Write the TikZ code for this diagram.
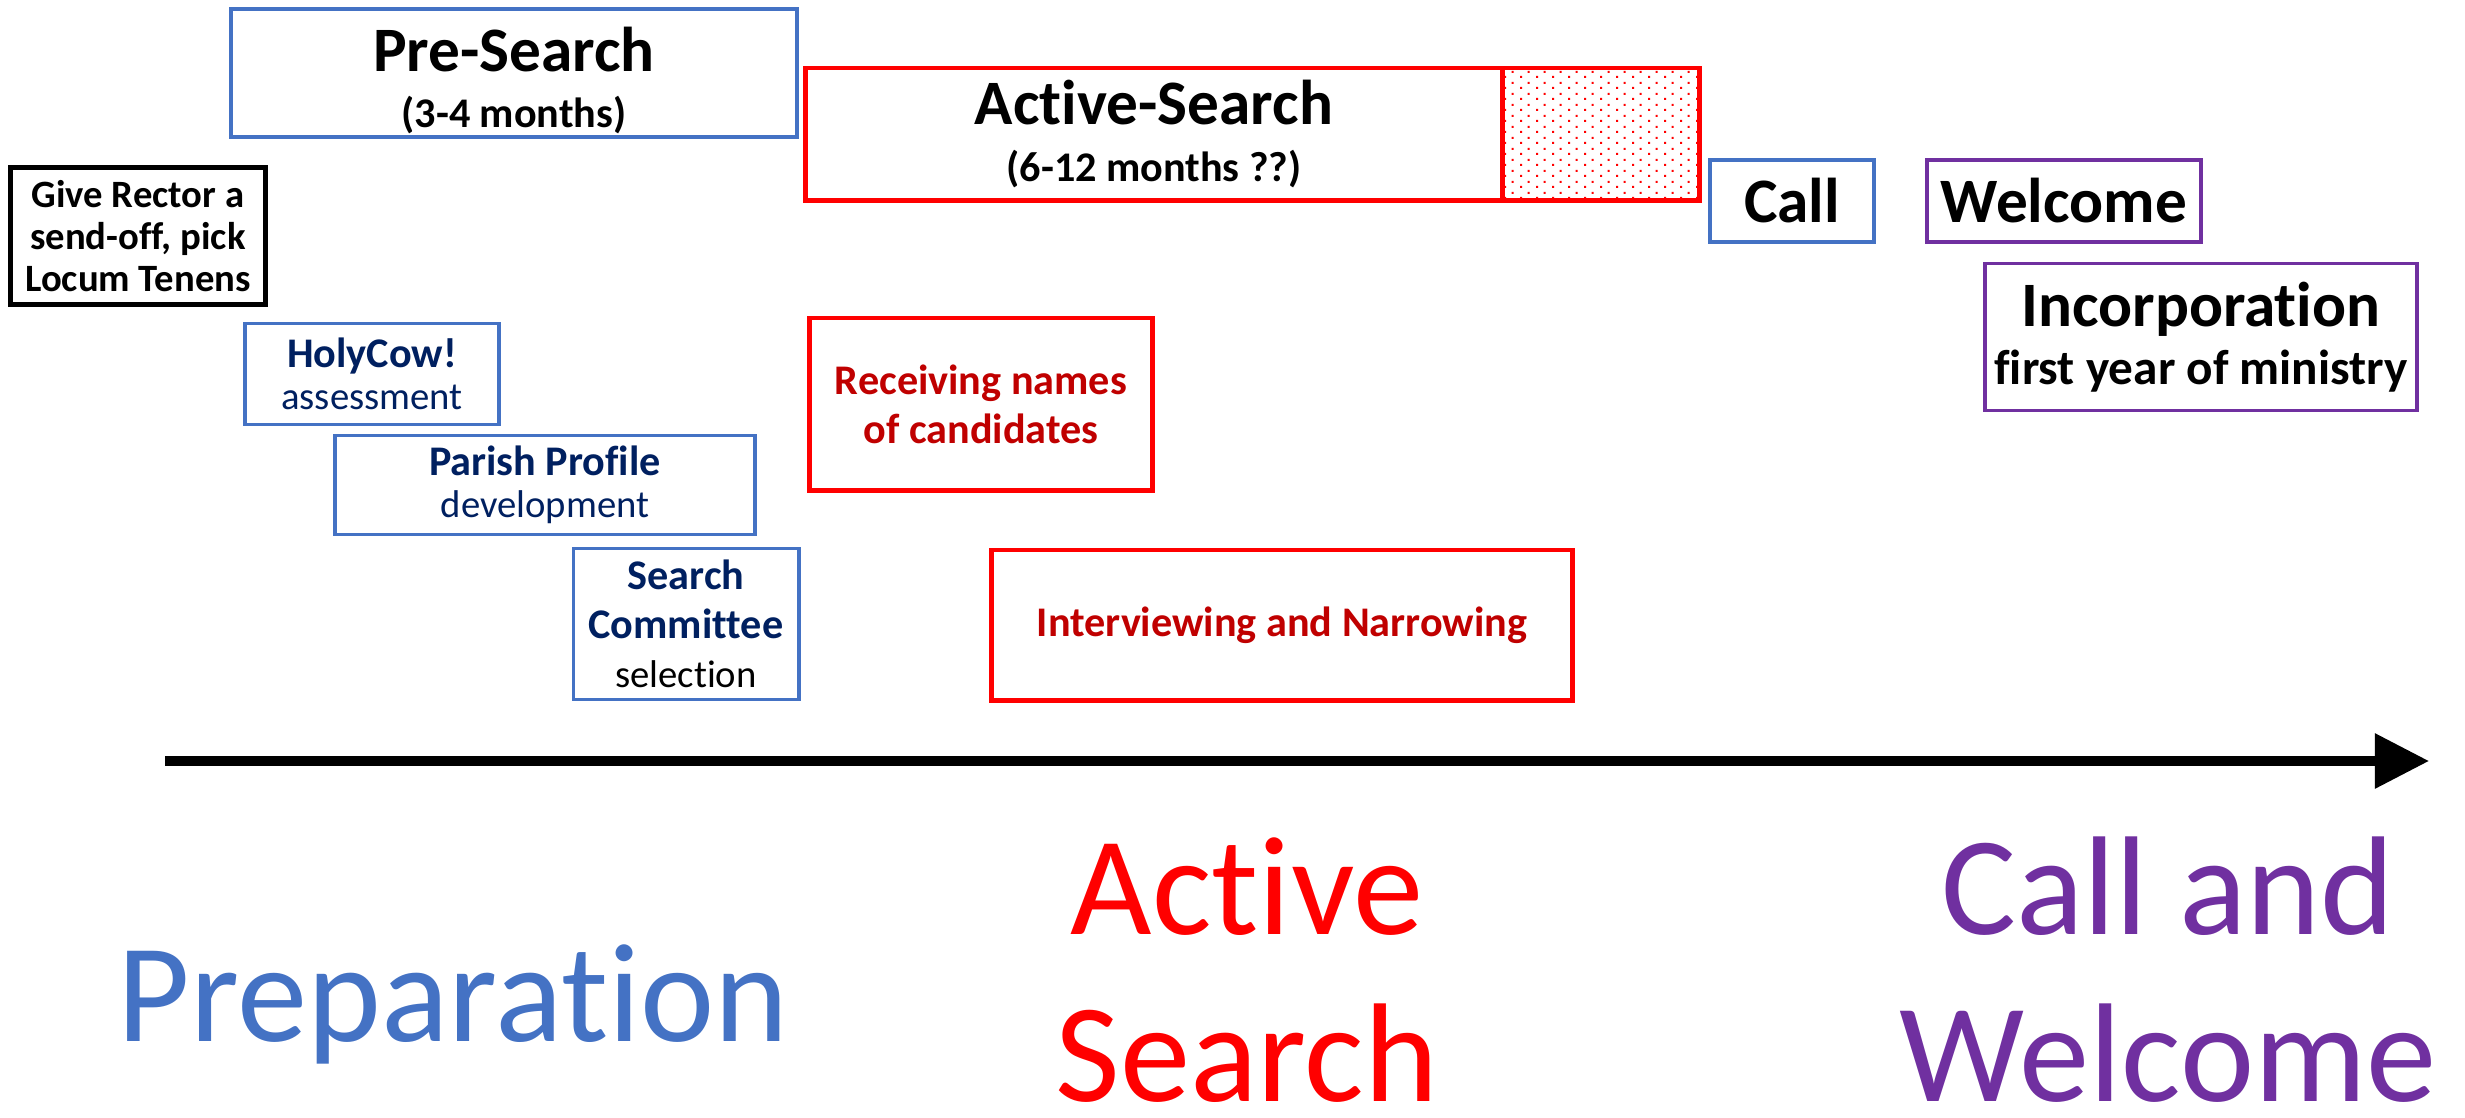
\documentclass[tikz,border=0pt]{standalone}
\usepackage{fontspec}
\setmainfont{Carlito}[Ligatures=CommonOff]
\usetikzlibrary{arrows.meta,patterns}
\definecolor{prepblue}{HTML}{4472C4}
\definecolor{searchred}{HTML}{FF0000}
\definecolor{callpurple}{HTML}{7030A0}
\definecolor{navytext}{HTML}{002060}
\definecolor{darkredtext}{HTML}{C00000}
% staggered dots for the open end of the search
\pgfdeclarepatternformonly{stagdots}{\pgfpointorigin}{\pgfqpoint{4.6pt}{3pt}}{\pgfqpoint{4.6pt}{3pt}}{
    \pgfpathrectangle{\pgfqpoint{0pt}{0pt}}{\pgfqpoint{0.6pt}{0.6pt}}
    \pgfpathrectangle{\pgfqpoint{2.3pt}{1.5pt}}{\pgfqpoint{0.6pt}{0.6pt}}
    \pgfusepath{fill}}
\begin{document}
\begin{tikzpicture}[x=0.01cm,y=-0.01cm]
        % Styles
        \tikzstyle{box}=[rectangle,inner sep=0pt,align=center,fill=white]
        \tikzstyle{blue box}=[box,draw=prepblue,line width=1.1pt]
        \tikzstyle{red box}=[box,draw=searchred,line width=1.4pt]
        \tikzstyle{purple box}=[box,draw=callpurple,line width=1.1pt]
        \tikzstyle{black box}=[box,draw=black,line width=1.5pt]
        \tikzstyle{phase text}=[align=center,inner sep=0pt,font=\fontsize{40}{47.5}\selectfont]
        \tikzstyle{timeline}=[line width=2.6pt,-{Triangle[length=0.54cm,width=0.53cm]}]
        \useasboundingbox (0,0) rectangle (2465,1117);
        %top row
        \node[blue box,minimum width=5.66cm,minimum height=1.28cm,font=\bfseries] (presearch) at (514,73)
            {\fontsize{18}{22}\selectfont\rule{0pt}{17pt}Pre-Search\\[4pt]\fontsize{12}{14}\selectfont (3-4 months)};
        \node[red box,minimum width=6.97cm,minimum height=1.32cm,font=\bfseries] (activesearch) at (1154,134)
            {\fontsize{18}{22}\selectfont Active-Search\\[4pt]\fontsize{12}{14}\selectfont (6-12 months ??)};
        \node[red box,pattern=stagdots,pattern color=searchred,minimum width=1.96cm,minimum height=1.32cm] (activeextra) at (1601,134) {};
        \node[black box,minimum width=2.55cm,minimum height=1.37cm,font=\fontsize{11}{12}\selectfont\bfseries] (rector) at (138,236)
            {Give Rector a\\send-off, pick\\Locum Tenens};
        \node[blue box,minimum width=1.64cm,minimum height=0.82cm,font=\fontsize{18}{22}\selectfont\bfseries] (call) at (1792,201)
            {Call};
        \node[purple box,minimum width=2.74cm,minimum height=0.82cm,font=\fontsize{18}{22}\selectfont\bfseries] (welcome) at (2064,201)
            {Welcome};
        \node[purple box,minimum width=4.31cm,minimum height=1.47cm,font=\bfseries] (incorporation) at (2201,337)
            {\fontsize{18}{22}\selectfont Incorporation\\[3pt]\fontsize{14}{17}\selectfont first year of ministry};
        %preparation steps
        \node[blue box,minimum width=2.53cm,minimum height=1.01cm,text=navytext,font=\fontsize{12}{13}\selectfont] (holycow) at (372,374)
            {\bfseries HolyCow!\\[-1pt]\fontsize{11}{13}\selectfont assessment};
        \node[blue box,minimum width=4.20cm,minimum height=0.99cm,text=navytext,font=\fontsize{12}{13}\selectfont] (profile) at (545,485)
            {\bfseries Parish Profile\\[-1pt]\fontsize{11}{13}\selectfont development};
        \node[blue box,minimum width=2.25cm,minimum height=1.51cm,text=navytext,font=\fontsize{12}{14}\selectfont] (committee) at (686,624)
            {\bfseries Search\\[0pt]\bfseries Committee\\[0pt]\color{black}\fontsize{11}{14}\selectfont selection};
        %search steps
        \node[red box,minimum width=3.42cm,minimum height=1.72cm,text=darkredtext,font=\fontsize{12}{14}\selectfont\bfseries] (receiving) at (981,404)
            {Receiving names\\[0pt]of candidates};
        \node[red box,minimum width=5.80cm,minimum height=1.50cm,text=darkredtext,font=\fontsize{12}{14}\selectfont\bfseries] (interviewing) at (1282,625)
            {Interviewing and Narrowing};
        %timeline
        \coordinate (tlstart) at (165,761);
        \coordinate (tlend) at (2429,761);
        \draw[timeline] (tlstart) -- (tlend);
        %phases
        \node[phase text,text=prepblue] (preparation) at (453,1004) {Preparation};
        \node[phase text,text=searchred] (searchphase) at (1247,970) {Active\\Search};
        \node[phase text,text=callpurple] (callphase) at (2168,970) {Call and\\Welcome};
\end{tikzpicture}
\end{document}
